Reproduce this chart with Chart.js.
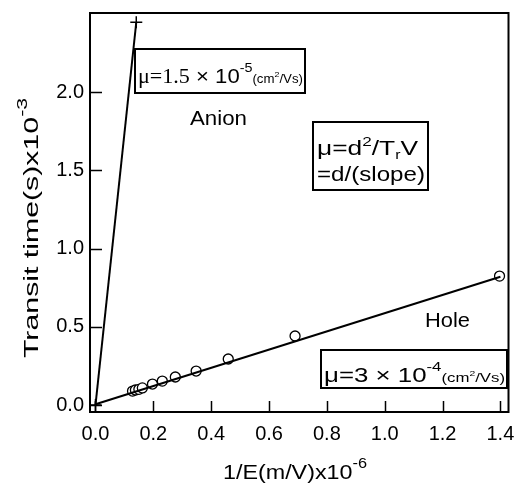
<!DOCTYPE html>
<html><head><meta charset="utf-8">
<script src="https://cdn.jsdelivr.net/npm/chart.js@4/dist/chart.umd.min.js"></script>
<style>html,body{margin:0;padding:0;background:#fff}#wrap{width:516px;height:483px}</style>
</head><body><div id="wrap"><canvas id="c" width="516" height="483"></canvas></div>
<script>
// Hole transit data (1/E x1e-6 m/V, transit time x1e-3 s)
const holeX = [0.128, 0.138, 0.150, 0.162, 0.197, 0.231, 0.276, 0.348, 0.459, 0.690, 1.397];
const holeY = [0.089, 0.096, 0.100, 0.109, 0.134, 0.153, 0.179, 0.217, 0.294, 0.441, 0.824];
// Fitted lines
const holeFitX = [0, 1.4];
const holeFitY = [0.005, 0.82];
const anionX = [0, 0.141];
const anionY = [0, 2.446];
// Axis ticks
const xTicks = [0, 0.2, 0.4, 0.6, 0.8, 1.0, 1.2, 1.4];
const xTickLabels = ['0.0','0.2','0.4','0.6','0.8','1.0','1.2','1.4'];
const yTicks = [0, 0.5, 1.0, 1.5, 2.0];
const yTickLabels = ['0.0','0.5','1.0','1.5','2.0'];

const SANS = "'Liberation Sans', Arial, sans-serif";
const SERIF = "'Liberation Serif', 'Times New Roman', serif";
const pts = (xs, ys) => xs.map((x, i) => ({x, y: ys[i]}));

function rich(ctx, x, y, segs, width) {
  let total = 0;
  for (const s of segs) { ctx.font = s.f; s.w = ctx.measureText(s.t).width; total += s.w; }
  const sx = width ? width / total : 1;
  ctx.save(); ctx.translate(x, y); ctx.scale(sx, 1);
  ctx.textAlign = 'left'; ctx.textBaseline = 'alphabetic'; ctx.fillStyle = '#000';
  let cx = 0;
  for (const s of segs) { ctx.font = s.f; ctx.fillText(s.t, cx, s.dy || 0); cx += s.w; }
  ctx.restore();
}
function box(ctx, l, t, r, b) {
  ctx.save(); ctx.fillStyle = '#fff'; ctx.fillRect(l, t, r - l, b - t);
  ctx.strokeStyle = '#000'; ctx.lineWidth = 2; ctx.strokeRect(l, t, r - l, b - t); ctx.restore();
}
function noPad(s) { s.paddingLeft = 0; s.paddingRight = 0; s.paddingTop = 0; s.paddingBottom = 0; }

const deco = {
  id: 'deco',
  afterDraw(chart) {
    const ctx = chart.ctx, a = chart.chartArea, xs = chart.scales.x, ys = chart.scales.y;
    ctx.save();
    ctx.strokeStyle = '#000'; ctx.lineWidth = 2;
    ctx.strokeRect(a.left, a.top, a.right - a.left, a.bottom - a.top);
    ctx.lineWidth = 1.5;
    ctx.beginPath();
    for (const v of xTicks) { const p = Math.round(xs.getPixelForValue(v)) + 0.5; ctx.moveTo(p, a.bottom); ctx.lineTo(p, a.bottom - 11); }
    for (const v of yTicks) { const p = Math.round(ys.getPixelForValue(v)) + 0.5; ctx.moveTo(a.left, p); ctx.lineTo(a.left + 12, p); }
    ctx.stroke();
    ctx.restore();

    // axis titles
    ctx.save();
    ctx.translate(38, 358); ctx.rotate(-Math.PI / 2);
    rich(ctx, 0, 0, [{t: 'Transit time(s)x10', f: '20px ' + SANS}, {t: '-3', f: '14px ' + SANS, dy: -11}], 260);
    ctx.restore();
    rich(ctx, 223, 479, [{t: '1/E(m/V)x10', f: '20px ' + SANS}, {t: '-6', f: '14px ' + SANS, dy: -11}], 144);

    // annotation boxes
    box(ctx, 135, 49, 305, 93);
    rich(ctx, 138, 83, [
      {t: 'μ=1.5', f: '20px ' + SERIF}, {t: ' × 10', f: '20px ' + SANS},
      {t: '-5', f: '13px ' + SANS, dy: -11}, {t: '(cm', f: '12px ' + SANS},
      {t: '2', f: '8px ' + SANS, dy: -6}, {t: '/Vs)', f: '12px ' + SANS}], 165);
    rich(ctx, 190, 125, [{t: 'Anion', f: '20px ' + SANS}], 57);

    box(ctx, 313, 122, 428, 190);
    rich(ctx, 317, 155, [
      {t: 'μ=d', f: '20px ' + SANS}, {t: '2', f: '13px ' + SANS, dy: -9},
      {t: '/T', f: '20px ' + SANS}, {t: 'r', f: '12px ' + SANS, dy: 4}, {t: 'V', f: '20px ' + SANS}], 101);
    rich(ctx, 317, 181, [{t: '=d/(slope)', f: '20px ' + SANS}], 108);

    rich(ctx, 425, 327, [{t: 'Hole', f: '20px ' + SANS}], 45);
    box(ctx, 321, 350, 507, 388);
    rich(ctx, 324, 382, [
      {t: 'μ=3 × 10', f: '20px ' + SANS}, {t: '-4', f: '13px ' + SANS, dy: -11},
      {t: '(cm', f: '13px ' + SANS}, {t: '2', f: '8px ' + SANS, dy: -6}, {t: '/Vs)', f: '13px ' + SANS}], 181);
  }
};

new Chart(document.getElementById('c'), {
  type: 'scatter',
  data: {
    datasets: [
      {data: pts(holeFitX, holeFitY), showLine: true, borderColor: '#000', borderWidth: 2, pointRadius: 0},
      {data: pts(anionX, anionY), showLine: true, borderColor: '#000', borderWidth: 2,
       pointStyle: 'cross', pointRadius: 6, pointBorderWidth: 1.5, pointBorderColor: '#000'},
      {data: pts(holeX, holeY), showLine: false, pointStyle: 'circle', pointRadius: 5,
       pointBorderWidth: 1.3, pointBorderColor: '#000', pointBackgroundColor: '#fff'}
    ]
  },
  options: {
    responsive: false, animation: false,
    layout: {padding: {left: 0, top: 13, right: 7, bottom: 0}},
    plugins: {legend: {display: false}, tooltip: {enabled: false}},
    scales: {
      x: {
        type: 'linear', min: -0.019, max: 1.428,
        grid: {display: false, drawTicks: false}, border: {display: false},
        afterBuildTicks: s => { s.ticks = xTicks.map(v => ({value: v})); },
        afterFit: s => { s.height = 71; noPad(s); },
        ticks: {color: '#000', font: {family: SANS, size: 20}, padding: 10, maxRotation: 0, autoSkip: false,
                callback: (v, i) => xTickLabels[i]}
      },
      y: {
        type: 'linear', min: -0.0447, max: 2.505,
        grid: {display: false, drawTicks: false}, border: {display: false},
        afterBuildTicks: s => { s.ticks = yTicks.map(v => ({value: v})); },
        afterFit: s => { s.width = 90; noPad(s); },
        ticks: {color: '#000', font: {family: SANS, size: 20}, padding: 6, autoSkip: false,
                callback: (v, i) => yTickLabels[i]}
      }
    }
  },
  plugins: [deco]
});
</script></body></html>
